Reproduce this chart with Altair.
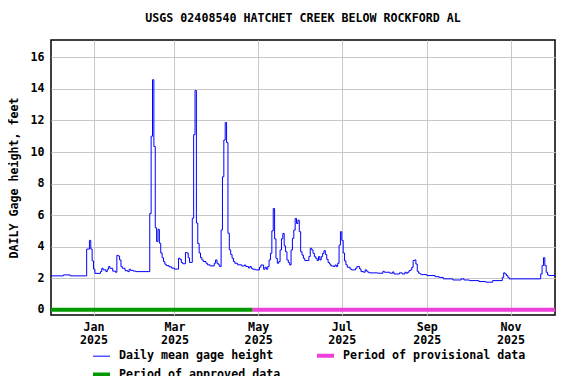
import altair as alt
import pandas as pd

# ---- data (days after 2024-12-01, daily mean gage height, ft)
day_offsets = [0, 9, 14, 26, 28, 29, 30, 31, 32, 35, 36, 37, 38, 40, 41, 42, 43, 45, 47, 48,
               49, 50, 51, 52, 54, 56, 57, 58, 60, 62, 72, 73, 74, 75, 76, 77, 78, 79, 80, 81,
               82, 83, 84, 86, 88, 90, 93, 94, 95, 96, 98, 99, 100, 101, 103, 104, 105, 106, 107, 108,
               109, 110, 111, 113, 114, 116, 119, 120, 121, 122, 123, 124, 125, 126, 127, 128, 129, 130, 131, 132,
               133, 134, 136, 139, 141, 142, 144, 145, 146, 147, 149, 152, 153, 155, 156, 157, 158, 159, 160, 161,
               162, 163, 164, 165, 166, 167, 168, 169, 170, 171, 172, 173, 174, 175, 176, 177, 178, 179, 180, 181,
               182, 183, 184, 185, 188, 189, 190, 191, 192, 193, 194, 195, 196, 197, 198, 199, 200, 201, 202, 203,
               204, 206, 207, 208, 209, 210, 211, 212, 213, 214, 215, 216, 218, 219, 222, 223, 225, 226, 228, 229,
               230, 231, 232, 238, 242, 243, 247, 249, 250, 254, 256, 258, 259, 260, 261, 262, 263, 264, 265, 266,
               267, 268, 269, 270, 274, 280, 283, 286, 293, 299, 301, 305, 312, 317, 322, 329, 330, 331, 332, 333,
               334, 357, 358, 359, 360, 361, 362, 363, 368]
gage_ft = [2.15, 2.21, 2.15, 3.85, 4.4, 3.85, 3.1, 2.58, 2.31, 2.3, 2.42, 2.63, 2.53, 2.42, 2.57, 2.74, 2.63, 2.45, 2.38, 3.45,
           3.41, 3.16, 2.74, 2.63, 2.48, 2.42, 2.57, 2.5, 2.45, 2.42, 6.1, 11.0, 14.58, 10.35, 5.2, 4.33, 5.1, 4.22, 3.6, 3.3,
           3.05, 2.89, 2.8, 2.72, 2.64, 2.58, 3.27, 3.2, 3.0, 2.92, 3.63, 3.6, 3.3, 3.0, 5.8, 11.1, 13.9, 5.5, 4.2, 3.6,
           3.3, 3.16, 3.06, 2.95, 2.85, 2.78, 2.95, 3.16, 2.95, 2.85, 2.74, 5.06, 8.43, 10.76, 11.87, 10.6, 4.85, 3.8, 3.5, 3.27,
           3.06, 2.95, 2.85, 2.78, 2.84, 2.74, 2.65, 2.74, 2.63, 2.57, 2.53, 2.7, 2.84, 2.57, 2.7, 2.57, 2.74, 3.16, 3.58, 5.0,
           6.42, 4.5, 3.26, 2.95, 3.05, 3.79, 4.5, 4.84, 4.05, 3.68, 3.16, 2.99, 2.84, 3.79, 4.53, 5.05, 5.79, 5.47, 5.68, 4.95,
           3.68, 3.47, 3.26, 3.12, 3.37, 3.9, 3.8, 3.58, 3.37, 3.26, 3.12, 3.37, 3.16, 3.37, 3.58, 3.75, 3.5, 3.2, 3.0, 2.9,
           2.78, 2.74, 2.84, 2.74, 2.95, 4.1, 4.95, 4.4, 3.6, 3.1, 2.85, 2.7, 2.59, 2.53, 2.63, 2.74, 2.59, 2.42, 2.38, 2.53,
           2.45, 2.38, 2.34, 2.32, 2.44, 2.38, 2.32, 2.4, 2.27, 2.34, 2.27, 2.38, 2.32, 2.38, 2.48, 2.53, 2.69, 3.12, 3.16, 2.9,
           2.44, 2.32, 2.27, 2.23, 2.17, 2.1, 2.05, 1.96, 1.89, 1.96, 1.89, 1.85, 1.79, 1.75, 1.85, 2.06, 2.34, 2.27, 2.17, 2.06,
           1.96, 2.27, 2.8, 3.3, 2.8, 2.38, 2.21, 2.17, 2.17]

# legend entries (keys give the order; the legend fills column by column)
legend_keys = ["a", "b", "c"]
legend_names = ["Daily mean gage height", "Period of approved data", "Period of provisional data"]
legend_colors = ["#0000ff", "#009a00", "#ee3fd9"]
legend_widths = [1, 4, 4]

period_keys = ["b", "c"]          # approved, provisional
period_start = ["2024-12-01", "2025-04-27"]
period_end = ["2025-04-27", "2025-12-05"]

y_ticks = [0, 2, 4, 6, 8, 10, 12, 14, 16]
x_ticks = ["2025-01-01", "2025-03-01", "2025-05-01", "2025-07-01", "2025-09-01", "2025-11-01"]

base = pd.Timestamp("2024-12-01")
line_df = pd.DataFrame({
    "date": [(base + pd.Timedelta(days=d)).strftime("%Y-%m-%d") for d in day_offsets],
    "value": gage_ft,
    "series": legend_keys[0],
})
period_df = pd.DataFrame({
    "start": period_start,
    "end": period_end,
    "series": period_keys,
    "value": [0] * len(period_keys),
})

FONT = "DejaVu Sans Mono"
FS = 11.65

x_scale = alt.Scale(type="utc",
                    domain=[alt.DateTime(year=2024, month=12, date=1, utc=True),
                            alt.DateTime(year=2025, month=12, date=3, hours=10, utc=True)])
y_scale = alt.Scale(domain=[-0.33, 17.1], nice=False, zero=False)

x_axis = alt.Axis(
    title=None,
    values=[alt.DateTime(year=int(s[:4]), month=int(s[5:7]), date=int(s[8:]), utc=True) for s in x_ticks],
    labelExpr="[utcFormat(datum.value, '%b'), utcFormat(datum.value, '%Y')]",
    grid=True, ticks=False, domain=False, labelPadding=6, labelLineHeight=13,
    labelOverlap=False,
)
y_axis = alt.Axis(title="DAILY Gage height, feet", values=y_ticks, grid=True, ticks=False,
                  domain=False, labelPadding=7, titlePadding=10, labelOverlap=False)

label_map = "{" + ", ".join(f"'{k}': '{n}'" for k, n in zip(legend_keys, legend_names)) + "}"
legend_kw = dict(title=None, orient="none", legendX=40, legendY=305,
                 columns=2, columnPadding=28, rowPadding=0,
                 symbolType="stroke", symbolSize=289, labelLimit=400, labelOffset=7,
                 labelExpr=f"{label_map}[datum.label]")

color = alt.Color("series:N",
                  scale=alt.Scale(domain=legend_keys, range=legend_colors),
                  legend=alt.Legend(**legend_kw))
width_enc = alt.StrokeWidth("series:N",
                            scale=alt.Scale(type="ordinal", domain=legend_keys, range=legend_widths),
                            legend=alt.Legend(**legend_kw))

line = alt.Chart(line_df).mark_line(interpolate="step-after", clip=True).encode(
    x=alt.X("date:T", scale=x_scale, axis=x_axis),
    y=alt.Y("value:Q", scale=y_scale, axis=y_axis),
    color=color,
    strokeWidth=width_enc,
)

periods = alt.Chart(period_df).mark_rule(clip=True).encode(
    x=alt.X("start:T", scale=x_scale, axis=x_axis),
    x2="end:T",
    y=alt.Y("value:Q", scale=y_scale, axis=y_axis),
    color=color,
    strokeWidth=width_enc,
)

chart = alt.layer(line, periods).properties(
    width=504, height=275,
    autosize=alt.AutoSizeParams(type="none"),
    padding={"left": 43, "top": 32, "right": 13, "bottom": 61},
    title=alt.TitleParams("USGS 02408540 HATCHET CREEK BELOW ROCKFORD AL",
                          font=FONT, fontSize=FS, fontWeight="bold", color="black",
                          anchor="middle", offset=15),
).configure_view(
    stroke="black", strokeWidth=1.5
).configure_axis(
    labelFont=FONT, labelFontSize=FS, labelFontWeight="bold", labelColor="black",
    titleFont=FONT, titleFontSize=FS, titleFontWeight="bold", titleColor="black",
    gridColor="#c8c8c8", gridWidth=1, gridOpacity=1,
).configure_legend(
    labelFont=FONT, labelFontSize=FS, labelFontWeight="bold", labelColor="black",
)

chart.save("out.html", embed_options={"renderer": "svg", "actions": False})
